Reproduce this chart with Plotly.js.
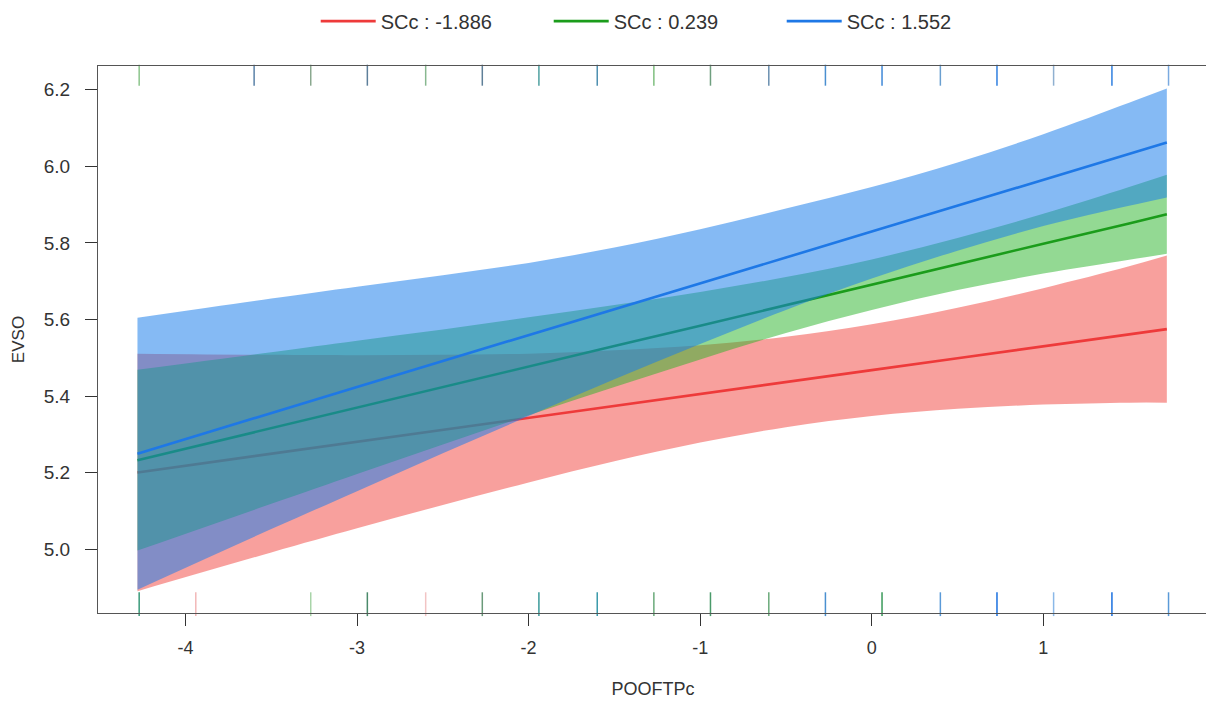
<!DOCTYPE html>
<html>
<head>
<meta charset="utf-8">
<script src="https://cdn.plot.ly/plotly-3.0.1.min.js"></script>
<style>
  html, body { margin: 0; padding: 0; background: #ffffff; overflow: hidden; }
  #chart { width: 1210px; height: 706px; }
</style>
</head>
<body>
<div id="chart"></div>
<script>
// ---- data ----
const xGrid = [-4.28, -3.5, -3, -2.5, -2, -1.5, -1, -0.5, 0, 0.5, 1, 1.5, 1.72];

const groupNames = ["SCc : -1.886", "SCc : 0.239", "SCc : 1.552"];

const redFit   = [5.201, 5.250, 5.281, 5.312, 5.343, 5.375, 5.406, 5.437, 5.468, 5.499, 5.530, 5.561, 5.575];
const redUpper = [5.511, 5.508, 5.507, 5.508, 5.511, 5.520, 5.533, 5.555, 5.588, 5.631, 5.682, 5.739, 5.767];
const redLower = [4.891, 4.992, 5.055, 5.116, 5.175, 5.230, 5.279, 5.319, 5.348, 5.367, 5.378, 5.383, 5.383];

const greenFit   = [5.233, 5.317, 5.371, 5.424, 5.478, 5.531, 5.584, 5.638, 5.691, 5.745, 5.798, 5.851, 5.875];
const greenUpper = [5.469, 5.515, 5.545, 5.574, 5.606, 5.638, 5.672, 5.711, 5.757, 5.813, 5.876, 5.946, 5.978];
const greenLower = [4.997, 5.119, 5.197, 5.274, 5.350, 5.424, 5.496, 5.565, 5.625, 5.677, 5.720, 5.756, 5.772];

const blueFit   = [5.250, 5.357, 5.424, 5.492, 5.559, 5.627, 5.694, 5.762, 5.830, 5.897, 5.965, 6.032, 6.062];
const blueUpper = [5.605, 5.655, 5.686, 5.716, 5.748, 5.788, 5.836, 5.890, 5.946, 6.010, 6.084, 6.166, 6.203];
const blueLower = [4.895, 5.053, 5.152, 5.251, 5.348, 5.444, 5.536, 5.625, 5.707, 5.780, 5.844, 5.897, 5.919];

// rug positions (POOFTPc observed values)
const rugTopX = [-4.27, -3.60, -3.27, -2.94, -2.60, -2.27, -1.94, -1.60, -1.27, -0.94, -0.60, -0.27, 0.06, 0.40, 0.73, 1.06, 1.40, 1.73];
const rugTopColors = ["#8cc58c", "#5b82a8", "#8aa88f", "#5d7f9a", "#88b890", "#5f7f98", "#4fa0a0", "#4d8fb0", "#7fbf7f", "#6f9f7f", "#6a8fb0", "#4a8fd0", "#3f88d8", "#6a9fd0", "#2f7fe0", "#8fb0d0", "#2f7fe0", "#7aaae0"];
const rugBottomX = [-4.27, -3.94, -3.27, -2.94, -2.60, -2.27, -1.94, -1.60, -1.27, -0.94, -0.60, -0.27, 0.06, 0.40, 0.73, 1.06, 1.40, 1.73];
const rugBottomColors = ["#3a9a7a", "#f2b8b8", "#a8d4a8", "#4a8a6a", "#f2c4c4", "#6a9a7a", "#3a9a9a", "#3a9aaa", "#6aaa7a", "#4a9a6a", "#6aaa7a", "#4a90d0", "#3a9a5a", "#5a9ad8", "#1a70e0", "#8ab8e8", "#1a70e0", "#5a9ad8"];

const xTickVals = [-4, -3, -2, -1, 0, 1];
const yTickVals = [5.0, 5.2, 5.4, 5.6, 5.8, 6.0, 6.2];
const yTickText = ["5.0", "5.2", "5.4", "5.6", "5.8", "6.0", "6.2"];

// ---- styling ----
const lineColors = ["#ee3a3a", "#1b9c1b", "#1e78e6"];
const bandColors = ["rgba(242,65,60,0.5)", "rgba(40,180,40,0.5)", "rgba(25,125,235,0.53)"];

const fits = [redFit, greenFit, blueFit];
const uppers = [redUpper, greenUpper, blueUpper];
const lowers = [redLower, greenLower, blueLower];

const traces = [];
for (let g = 0; g < 3; g++) {
  traces.push({
    x: xGrid, y: lowers[g], type: "scatter", mode: "lines",
    line: { width: 0, color: bandColors[g], shape: "spline" },
    showlegend: false, hoverinfo: "skip"
  });
  traces.push({
    x: xGrid, y: uppers[g], type: "scatter", mode: "lines",
    line: { width: 0, color: bandColors[g], shape: "spline" },
    fill: "tonexty", fillcolor: bandColors[g],
    showlegend: false, hoverinfo: "skip"
  });
  traces.push({
    x: xGrid, y: fits[g], type: "scatter", mode: "lines",
    line: { width: 2.6, color: lineColors[g] },
    name: groupNames[g]
  });
}

traces.push({
  x: rugTopX, y: rugTopX.map(() => 6.238), type: "scatter", mode: "markers",
  marker: { symbol: "line-ns-open", size: 15, color: rugTopColors, line: { width: 1.5, color: rugTopColors } },
  showlegend: false, hoverinfo: "skip", cliponaxis: false
});
traces.push({
  x: rugBottomX, y: rugBottomX.map(() => 4.857), type: "scatter", mode: "markers",
  marker: { symbol: "line-ns-open", size: 17, color: rugBottomColors, line: { width: 1.5, color: rugBottomColors } },
  showlegend: false, hoverinfo: "skip", cliponaxis: false
});

const fam = "Liberation Sans, Arial, sans-serif";
const txt = "#333333";

const layout = {
  width: 1210, height: 706,
  margin: { l: 98, r: 2, t: 63, b: 93 },
  paper_bgcolor: "#ffffff", plot_bgcolor: "#ffffff",
  font: { family: fam, size: 19, color: txt },
  showlegend: true,
  legend: {
    orientation: "h", x: 0.511, xanchor: "center", xref: "paper",
    y: 1.082, yanchor: "middle",
    font: { family: fam, size: 20, color: txt },
    itemwidth: 55, entrywidth: 163, entrywidthmode: "pixels",
    traceorder: "normal"
  },
  xaxis: {
    range: [-4.51, 1.96], showgrid: false, zeroline: false,
    tickmode: "array", tickvals: xTickVals, ticktext: xTickVals.map(String),
    ticks: "outside", ticklen: 12, tickwidth: 1, tickcolor: "#333333",
    showline: true, linecolor: "#555555", linewidth: 1, mirror: true,
    ticklabelstandoff: 6,
    tickfont: { family: fam, size: 18, color: txt },
    title: { text: "POOFTPc", font: { family: fam, size: 18, color: txt }, standoff: 25 },
    automargin: false
  },
  yaxis: {
    range: [4.834, 6.262], showgrid: false, zeroline: false,
    tickmode: "array", tickvals: yTickVals, ticktext: yTickText,
    ticks: "outside", ticklen: 12, tickwidth: 1, tickcolor: "#333333",
    showline: true, linecolor: "#555555", linewidth: 1, mirror: true,
    ticklabelstandoff: 11,
    tickfont: { family: fam, size: 19, color: txt },
    title: { text: "EVSO", font: { family: fam, size: 17, color: txt }, standoff: 14 },
    automargin: false
  }
};

Plotly.newPlot("chart", traces, layout, { displayModeBar: false, staticPlot: true });
</script>
</body>
</html>
